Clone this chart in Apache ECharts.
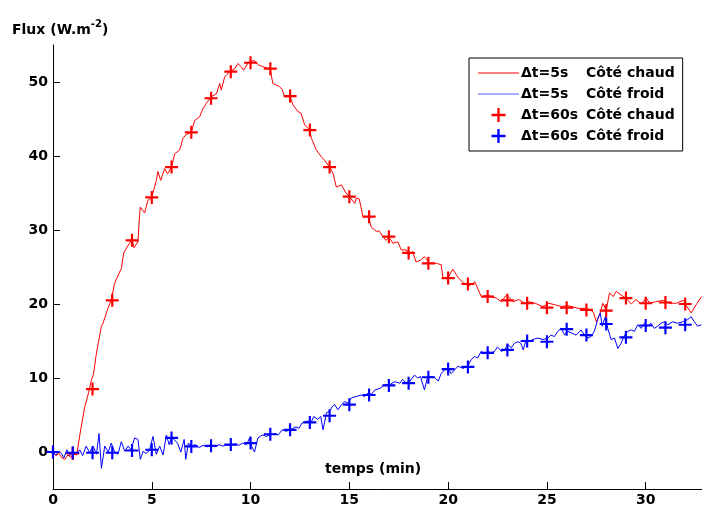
<!DOCTYPE html>
<html>
<head>
<meta charset="utf-8">
<script src="https://cdn.jsdelivr.net/npm/echarts@6/dist/echarts.min.js"></script>
<style>
html,body{margin:0;padding:0;background:#fff;}
#chart{width:702px;height:507px;}
</style>
</head>
<body>
<div id="chart"></div>
<script>
// ---- data ----
const xTicks = [0, 5, 10, 15, 20, 25, 30];
const yTicks = [0, 10, 20, 30, 40, 50];
const legendNames = ['Δt=5s Côté chaud', 'Δt=5s Côté froid', 'Δt=60s Côté chaud', 'Δt=60s Côté froid'];

// 60 s samples (minutes)
const minutes60 = [0,1,2,3,4,5,6,7,8,9,10,11,12,13,14,15,16,17,18,19,20,21,22,23,24,25,26,27,28,29,30,31,32];
const hot60 = [0,-0.2,8.5,20.5,28.6,34.4,38.5,43.2,47.8,51.4,52.6,51.8,48.1,43.5,38.5,34.5,31.8,29.1,26.9,25.5,23.5,22.7,21.0,20.5,20.1,19.5,19.5,19.2,19.1,20.8,20.1,20.2,20.0];
const cold60 = [0,-0.1,-0.1,-0.1,0.2,0.3,1.9,0.75,0.85,1.0,1.2,2.4,3.0,4.0,4.9,6.4,7.7,9.0,9.3,10.1,11.2,11.5,13.4,13.8,15.0,14.9,16.6,15.8,17.3,15.5,17.1,16.8,17.2];

// 5 s signal, hot side [minutes, flux]
const hot5 = [
[0,0],[0.15,-0.5],[0.3,-0.2],[0.45,-0.8],[0.6,-1.0],[0.75,-0.4],[0.9,-0.7],[1.05,-0.3],[1.2,-0.4],
[1.4,3.0],[1.6,6.0],[1.8,8.0],[1.94,9.7],[2.05,10.5],[2.2,13.4],[2.45,17.0],[2.53,17.4],[2.6,17.3],[2.78,19.4],[2.95,20.6],
[3.12,22.8],[3.3,23.9],[3.46,24.8],[3.58,26.9],[3.75,27.7],[3.9,28.3],[4.0,28.7],[4.1,27.6],[4.3,28.4],[4.38,32.0],[4.42,33.1],
[4.64,32.3],[4.8,34.0],[5.0,34.4],[5.23,36.7],[5.31,37.9],[5.45,36.7],[5.65,38.3],[5.8,37.6],[6.0,38.5],[6.16,40.3],[6.41,40.8],
[6.58,42.4],[6.75,42.9],[7.0,43.2],[7.17,44.8],[7.42,45.3],[7.59,46.4],[7.76,47.1],[8.0,48.0],[8.27,48.4],[8.44,49.8],[8.52,48.9],
[8.69,50.7],[9.0,51.5],[9.2,51.8],[9.36,52.5],[9.45,52.7],[9.55,52.0],[9.65,51.6],[9.9,52.7],[10.05,52.8],[10.2,52.9],[10.4,52.3],
[10.6,52.1],[10.8,51.9],[11.0,51.8],[11.05,50.9],[11.13,49.8],[11.3,49.6],[11.45,49.4],[11.6,49.0],[11.73,48.0],[12.0,48.0],
[12.15,46.9],[12.4,46.0],[12.55,45.8],[12.74,44.2],[13.0,43.5],[13.08,42.4],[13.33,40.8],[13.58,39.9],[13.75,39.4],[14.0,38.5],
[14.17,37.7],[14.34,35.8],[14.6,36.1],[14.83,35.0],[15.0,34.5],[15.27,33.6],[15.35,34.3],[15.5,34.2],[15.69,31.8],[15.95,31.8],
[16.11,30.4],[16.37,29.8],[16.5,29.9],[16.7,29.1],[16.86,28.6],[17.0,29.1],[17.2,28.2],[17.45,28.4],[17.63,27.3],[17.9,27.3],
[18.0,26.6],[18.2,27.1],[18.37,25.7],[18.6,25.9],[18.8,26.4],[19.06,25.5],[19.4,25.5],[19.65,25.3],[19.74,23.5],[20.0,23.6],
[20.24,24.7],[20.5,23.6],[20.75,22.9],[21.1,22.5],[21.35,23.0],[21.68,21.0],[22.0,21.2],[22.2,21.0],[22.44,20.8],[22.69,20.3],
[22.95,21.2],[23.3,20.3],[23.57,20.6],[23.87,20.1],[24.1,20.3],[24.4,20.1],[24.8,19.65],[25.1,20.1],[25.4,19.9],[25.75,19.65],
[26.0,19.8],[26.25,19.65],[26.6,19.4],[26.95,19.4],[27.2,19.2],[27.35,18.9],[27.5,17.6],[27.7,18.8],[27.83,20.1],[28.0,19.2],
[28.17,21.5],[28.35,21.0],[28.51,21.7],[28.76,21.2],[29.0,20.8],[29.27,20.0],[29.5,20.6],[29.77,20.0],[30.03,20.8],[30.2,20.1],
[30.5,20.3],[30.9,20.5],[31.2,20.1],[31.55,20.1],[31.9,20.5],[32.1,19.6],[32.3,18.8],[32.6,20.1],[32.83,21.0]
];

// 5 s signal, cold side [minutes, flux]
const cold5 = [
[0,0],[0.15,-0.4],[0.3,0.1],[0.45,-0.3],[0.55,-0.8],[0.7,0.3],[0.85,-0.5],[1.0,0.1],[1.2,-0.2],[1.35,0.3],[1.5,-0.5],[1.68,0.8],
[1.85,-0.1],[2.03,0.8],[2.2,-0.3],[2.33,2.5],[2.45,-2.2],[2.62,0.8],[2.8,0.0],[2.95,1.2],[3.1,0.1],[3.29,-0.3],[3.46,1.4],[3.63,0.1],
[3.8,0.8],[3.95,0.3],[4.13,1.9],[4.3,1.7],[4.42,-1.0],[4.56,0.1],[4.7,-0.2],[4.88,0.2],[5.06,2.1],[5.23,-0.3],[5.4,0.8],[5.57,-0.4],
[5.74,2.3],[5.88,1.0],[6.0,2.0],[6.13,1.7],[6.3,1.2],[6.47,0.0],[6.64,1.7],[6.72,-1.0],[6.85,1.2],[7.0,0.8],[7.2,1.0],[7.4,0.6],
[7.6,0.9],[7.8,0.7],[8.0,0.85],[8.2,0.7],[8.4,1.0],[8.6,0.8],[8.8,1.0],[9.0,0.85],[9.2,1.1],[9.4,0.9],[9.6,1.2],[9.8,1.0],
[9.95,1.9],[10.05,0.8],[10.2,0.0],[10.37,1.9],[10.6,2.3],[10.8,2.1],[10.95,2.3],[11.2,2.5],[11.4,2.3],[11.6,3.0],[11.8,2.8],
[12.0,3.0],[12.3,3.4],[12.45,3.2],[12.6,3.9],[12.9,4.2],[13.05,3.9],[13.2,4.8],[13.4,4.4],[13.55,4.8],[13.67,3.0],[13.84,5.3],
[14.0,5.5],[14.15,6.2],[14.26,6.4],[14.42,5.7],[14.6,6.4],[14.77,6.8],[14.93,6.6],[15.1,7.3],[15.35,7.5],[15.6,7.7],[15.78,7.5],
[15.95,8.0],[16.12,7.8],[16.3,8.4],[16.55,8.6],[16.8,9.1],[17.05,9.1],[17.3,9.5],[17.55,9.3],[17.7,9.8],[17.85,9.4],[18.05,9.5],
[18.3,10.4],[18.45,10.0],[18.6,10.2],[18.8,8.4],[18.95,10.0],[19.1,10.2],[19.3,10.1],[19.5,9.6],[19.65,10.6],[19.82,11.1],
[20.0,11.3],[20.15,10.6],[20.33,11.1],[20.5,11.6],[20.75,11.3],[21.0,11.6],[21.17,12.5],[21.34,12.9],[21.5,12.7],[21.67,13.6],
[21.84,13.3],[22.0,13.6],[22.17,13.4],[22.35,13.6],[22.5,14.2],[22.7,13.6],[22.86,13.8],[23.02,14.5],[23.2,14.1],[23.36,14.7],
[23.53,14.9],[23.68,14.7],[23.8,13.8],[23.95,15.2],[24.12,15.0],[24.3,15.2],[24.54,15.4],[24.8,15.2],[25.05,15.4],[25.2,15.8],
[25.38,15.6],[25.55,16.3],[25.72,16.7],[25.9,15.8],[26.06,16.3],[26.23,16.1],[26.48,15.8],[26.73,16.5],[26.9,15.8],[27.07,15.4],
[27.23,15.6],[27.4,16.3],[27.57,17.9],[27.7,18.8],[27.8,17.0],[27.96,18.3],[28.08,16.7],[28.25,15.2],[28.42,15.4],[28.59,14.0],
[28.76,14.7],[28.93,15.8],[29.1,16.3],[29.27,16.5],[29.43,16.3],[29.6,17.2],[29.77,16.7],[29.94,17.4],[30.1,17.0],[30.27,17.4],
[30.44,16.7],[30.6,17.0],[30.78,17.4],[30.95,17.6],[31.12,17.2],[31.37,17.6],[31.62,17.4],[31.88,17.6],[32.13,17.9],[32.3,18.3],
[32.46,17.6],[32.63,17.0],[32.82,17.2]
];

// ---- chart ----
const FONT = 'DejaVu Sans';
const plusPath = 'path://M5,0H7V5H12V7H7V12H5V7H0V5H5Z';
const linePath = 'path://M0,0H41V1H0Z';
const chart = echarts.init(document.getElementById('chart'), null, {renderer: 'canvas'});

const legendRich = {
  a: {fontFamily: FONT, fontWeight: 'bold', fontSize: 14, width: 65, color: '#000'},
  b: {fontFamily: FONT, fontWeight: 'bold', fontSize: 14, color: '#000'}
};

chart.setOption({
  animation: false,
  backgroundColor: '#fff',
  grid: {left: 53, right: 0, top: 45, bottom: 18, containLabel: false},
  xAxis: {
    type: 'value', min: 0, max: 32.85,
    axisLine: {show: true, onZero: false, lineStyle: {color: '#000', width: 1}},
    axisTick: {show: true, inside: true, length: 7, customValues: xTicks, lineStyle: {color: '#000'}},
    axisLabel: {customValues: xTicks, margin: 4, color: '#000', fontFamily: FONT, fontWeight: 'bold', fontSize: 14},
    splitLine: {show: false}
  },
  yAxis: {
    type: 'value', min: -5, max: 55,
    axisLine: {show: true, onZero: false, lineStyle: {color: '#000', width: 1}},
    axisTick: {show: true, inside: true, length: 7, customValues: yTicks, lineStyle: {color: '#000'}},
    axisLabel: {customValues: yTicks, margin: 5, color: '#000', fontFamily: FONT, fontWeight: 'bold', fontSize: 14},
    splitLine: {show: false}
  },
  legend: {
    orient: 'vertical', left: 469, top: 58,
    padding: [8, 8, 8, 9],
    itemWidth: 41, itemHeight: 14, itemGap: 7,
    backgroundColor: '#fff', borderColor: '#000', borderWidth: 1, borderRadius: 0,
    data: [
      {name: legendNames[0], icon: linePath, itemStyle: {color: '#ff0000', borderWidth: 0}},
      {name: legendNames[1], icon: linePath, itemStyle: {color: '#4a5cff', borderWidth: 0}},
      {name: legendNames[2], icon: plusPath},
      {name: legendNames[3], icon: plusPath}
    ],
    formatter: function (n) {
      const parts = n.split(' ');
      return '{a|' + parts[0] + '}{b|' + parts.slice(1).join(' ') + '}';
    },
    textStyle: {lineHeight: 14, padding: [0, 0, 0, -3], rich: legendRich},
    selectedMode: false
  },
  graphic: [
    {
      type: 'text', left: 12, top: 19,
      style: {
        text: '{a|Flux (W.m}{s|-2}{a|)}',
        rich: {
          a: {fontFamily: FONT, fontWeight: 'bold', fontSize: 14, fill: '#000', lineHeight: 18, verticalAlign: 'bottom'},
          s: {fontFamily: FONT, fontWeight: 'bold', fontSize: 10, fill: '#000', lineHeight: 10, verticalAlign: 'top'}
        }
      }
    },
    {
      type: 'text', left: 325, top: 462,
      style: {text: 'temps (min)', fontFamily: FONT, fontWeight: 'bold', fontSize: 14, fill: '#000'}
    }
  ],
  series: [
    {name: legendNames[0], type: 'line', data: hot5, symbol: 'none', lineStyle: {color: '#ff0000', width: 1}, itemStyle: {color: '#ff0000'}, z: 2},
    {name: legendNames[1], type: 'line', data: cold5, symbol: 'none', lineStyle: {color: '#0000ff', width: 1}, itemStyle: {color: '#0000ff'}, z: 3},
    {name: legendNames[2], type: 'scatter', data: minutes60.map((t, i) => [t, hot60[i]]), symbol: plusPath, symbolSize: 13, itemStyle: {color: '#ff0000', opacity: 1}, z: 4},
    {name: legendNames[3], type: 'scatter', data: minutes60.map((t, i) => [t, cold60[i]]), symbol: plusPath, symbolSize: 13, itemStyle: {color: '#0000ff', opacity: 1}, z: 5}
  ]
});
</script>
</body>
</html>
